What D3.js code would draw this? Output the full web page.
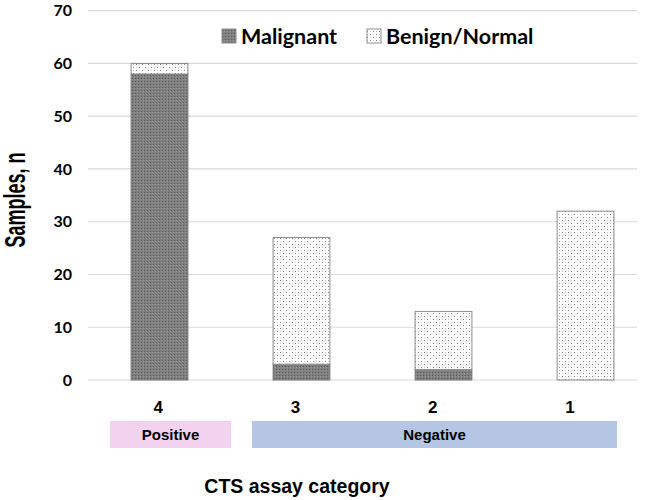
<!DOCTYPE html>
<html>
<head>
<meta charset="utf-8">
<script src="https://cdn.jsdelivr.net/npm/d3@7"></script>
<style>
  body { margin: 0; background: #fff; }
  svg { display: block; }
</style>
</head>
<body>
<div id="chart"></div>
<script>
// Data
let categories = ["4", "3", "2", "1"];
let malignant = [58, 3, 2, 0];
let benign = [2, 24, 11, 32];
let yTicks = [0, 10, 20, 30, 40, 50, 60, 70];
let groups = [
  { name: "Positive", from: "4", to: "4" },
  { name: "Negative", from: "3", to: "1" }
];

let width = 661, height = 500;

let svg = d3.select("#chart").append("svg")
  .attr("width", width).attr("height", height);

// patterns for the two series
let defs = svg.append("defs");
let pm = defs.append("pattern").attr("id", "patMal")
  .attr("width", 3).attr("height", 3).attr("patternUnits", "userSpaceOnUse");
pm.append("rect").attr("width", 3).attr("height", 3).attr("fill", "#808080");
pm.append("rect").attr("width", 1).attr("height", 1).attr("fill", "#595959");
pm.append("rect").attr("x", 2).attr("y", 1).attr("width", 1).attr("height", 1).attr("fill", "#9a9a9a");

let pb = defs.append("pattern").attr("id", "patBen")
  .attr("width", 6).attr("height", 6).attr("patternUnits", "userSpaceOnUse");
pb.append("rect").attr("width", 6).attr("height", 6).attr("fill", "#fff");
pb.append("rect").attr("x", 1).attr("y", 1).attr("width", 1).attr("height", 1).attr("fill", "#808080");
pb.append("rect").attr("x", 4).attr("y", 4).attr("width", 1).attr("height", 1).attr("fill", "#808080");
pb.append("rect").attr("x", 4).attr("y", 1).attr("width", 1).attr("height", 1).attr("fill", "#cfcfcf");
pb.append("rect").attr("x", 1).attr("y", 4).attr("width", 1).attr("height", 1).attr("fill", "#cfcfcf");

////////////////////////////////////////////////////////////////////////
// Scales

let y = d3.scaleLinear().domain([0, 70]).range([380, 10.7]);
let xBar = d3.scaleBand().domain(categories).range([88.5, 656.5]).paddingInner(0.6).paddingOuter(0.3);
let xLab = d3.scaleBand().domain(categories).range([88, 637]);

// gridlines
svg.append("g")
  .selectAll("line")
  .data(yTicks)
  .enter().append("line")
  .attr("x1", 88).attr("x2", 637)
  .attr("y1", d => y(d)).attr("y2", d => y(d))
  .style("stroke", "#d9d9d9")
  .style("stroke-width", 1.2);

// y tick labels
svg.append("g")
  .selectAll("text")
  .data(yTicks)
  .enter().append("text")
  .attr("x", 72)
  .attr("y", d => y(d))
  .attr("dy", "0.36em")
  .attr("text-anchor", "end")
  .style("font-family", "Lato, 'Liberation Sans', sans-serif")
  .style("font-weight", "bold")
  .style("font-size", "16px")
  .text(d => d);

////////////////////////////////////////////////////////////////////////
// Stacked bars

let stacked = categories.map((c, i) => ({ cat: c, mal: malignant[i], ben: benign[i] }));

let bars = svg.append("g");
bars.selectAll(".mal")
  .data(stacked.filter(d => d.mal > 0))
  .enter().append("rect")
  .attr("class", "mal")
  .attr("x", d => xBar(d.cat))
  .attr("width", xBar.bandwidth())
  .attr("y", d => y(d.mal))
  .attr("height", d => y(0) - y(d.mal))
  .style("fill", "url(#patMal)")
  .style("stroke", "#7a7a7a")
  .style("stroke-width", 1);

bars.selectAll(".ben")
  .data(stacked.filter(d => d.ben > 0))
  .enter().append("rect")
  .attr("class", "ben")
  .attr("x", d => xBar(d.cat))
  .attr("width", xBar.bandwidth())
  .attr("y", d => y(d.mal + d.ben))
  .attr("height", d => y(d.mal) - y(d.mal + d.ben))
  .style("fill", "url(#patBen)")
  .style("stroke", "#8c8c8c")
  .style("stroke-width", 1);

////////////////////////////////////////////////////////////////////////
// Category labels and group boxes

svg.append("g")
  .selectAll("text")
  .data(categories)
  .enter().append("text")
  .attr("x", d => xLab(d) + xLab.bandwidth() / 2 + 1.5)
  .attr("y", 413)
  .attr("text-anchor", "middle")
  .style("font-family", "'Liberation Sans', Arial, sans-serif")
  .style("font-weight", "bold")
  .style("font-size", "17px")
  .text(d => d);

let groupColor = { Positive: "#f3d2ef", Negative: "#b5c6e5" };
let groupBox = {
  Positive: [110, 231],
  Negative: [252, 617]
};

let g = svg.append("g").selectAll("g")
  .data(groups)
  .enter().append("g");
g.append("rect")
  .attr("x", d => groupBox[d.name][0])
  .attr("width", d => groupBox[d.name][1] - groupBox[d.name][0])
  .attr("y", 421)
  .attr("height", 27)
  .style("fill", d => groupColor[d.name]);
g.append("text")
  .attr("x", d => (groupBox[d.name][0] + groupBox[d.name][1]) / 2)
  .attr("y", 440)
  .attr("text-anchor", "middle")
  .style("font-family", "'Liberation Sans', Arial, sans-serif")
  .style("font-weight", "bold")
  .style("font-size", "15px")
  .text(d => d.name);

////////////////////////////////////////////////////////////////////////
// Axis titles

svg.append("text")
  .attr("x", 297)
  .attr("y", 493)
  .attr("text-anchor", "middle")
  .style("font-family", "'Liberation Sans', Arial, sans-serif")
  .style("font-weight", "bold")
  .style("font-size", "19.5px")
  .text("CTS assay category");

// the y title is stretched across its height in the reference
svg.append("text")
  .attr("transform", "translate(25,200) rotate(-90) scale(1,1.6)")
  .attr("text-anchor", "middle")
  .style("font-family", "'Liberation Sans', Arial, sans-serif")
  .style("font-weight", "bold")
  .style("font-size", "18px")
  .text("Samples, n");

////////////////////////////////////////////////////////////////////////
// Legend

let legendItems = [
  { name: "Malignant", fill: "url(#patMal)", sx: 222 },
  { name: "Benign/Normal", fill: "url(#patBen)", sx: 367 }
];
let leg = svg.append("g").selectAll("g")
  .data(legendItems)
  .enter().append("g");
leg.append("rect")
  .attr("x", d => d.sx).attr("y", 29)
  .attr("width", 14).attr("height", 14)
  .style("fill", d => d.fill)
  .style("stroke", "#8c8c8c");
leg.append("text")
  .attr("x", d => d.sx + 19)
  .attr("y", 44)
  .style("font-family", "Lato, 'Liberation Sans', sans-serif")
  .style("font-weight", "bold")
  .style("font-size", "21.5px")
  .text(d => d.name);
</script>
</body>
</html>
